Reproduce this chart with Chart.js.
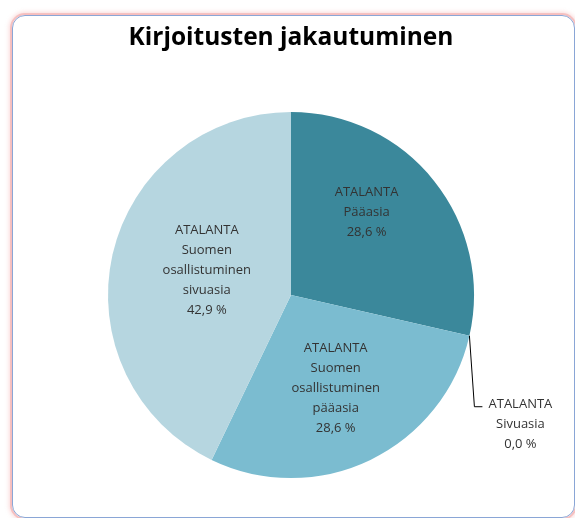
<!DOCTYPE html>
<html>
<head>
<meta charset="utf-8">
<script src="https://cdn.jsdelivr.net/npm/chart.js@4.4.1/dist/chart.umd.min.js"></script>
<style>
  html, body { margin: 0; padding: 0; background: #ffffff; }
  #wrap { position: relative; width: 575px; height: 518px; overflow: hidden; }
  #frame {
    position: absolute; left: 12px; top: 15px; width: 563px; height: 503px;
    border: 1.5px solid #8aa6d6; border-radius: 13px; box-sizing: border-box;
    box-shadow: 0 0 0 2px rgba(240,150,150,0.45), 0 0 4px 3px rgba(240,150,150,0.35);
  }
  canvas { position: absolute; left: 0; top: 0; }
</style>
</head>
<body>
<div id="wrap">
  <div id="frame"></div>
  <canvas id="c" width="575" height="518"></canvas>
</div>
<script>
const titleText = 'Kirjoitusten jakautuminen';
const categories = [
  'ATALANTA\nPääasia',
  'ATALANTA\nSivuasia',
  'ATALANTA\nSuomen\nosallistuminen\npääasia',
  'ATALANTA\nSuomen\nosallistuminen\nsivuasia'
];
const values = [2, 0, 2, 3];
const colors = ['#3b889b', '#3b889b', '#7bbcd0', '#b6d6e0'];

const labelPlugin = {
  id: 'sliceLabels',
  afterDatasetsDraw(chart, args, opts) {
    const ctx = chart.ctx;
    const meta = chart.getDatasetMeta(0);
    const data = chart.data.datasets[0].data;
    const total = data.reduce((a, b) => a + b, 0);
    ctx.save();
    ctx.font = opts.font;
    ctx.fillStyle = opts.color;
    ctx.textAlign = 'center';
    ctx.textBaseline = 'middle';
    const lh = opts.lineHeight;
    meta.data.forEach((arc, i) => {
      const p = arc.getProps(['x', 'y', 'startAngle', 'endAngle', 'outerRadius'], true);
      const pct = (data[i] / total * 100).toFixed(1).replace('.', ',') + ' %';
      const lines = chart.data.labels[i].split('\n').concat([pct]);
      const mid = (p.startAngle + p.endAngle) / 2;
      let cx, cy;
      if (data[i] === 0) {
        const ex = p.x + Math.cos(mid) * p.outerRadius;
        const ey = p.y + Math.sin(mid) * p.outerRadius;
        const bx = ex + opts.leader.dx, by = ey + opts.leader.dy;
        ctx.strokeStyle = '#000';
        ctx.lineWidth = 1;
        ctx.beginPath();
        ctx.moveTo(ex, ey);
        ctx.lineTo(bx, by);
        ctx.lineTo(bx + opts.leader.hx, by);
        ctx.stroke();
        cx = bx + opts.leader.textDx;
        cy = by - 2 + lh;
      } else {
        const adj = opts.adjust[i] || { r: 0.55, a: 0 };
        const ang = mid + adj.a * Math.PI / 180;
        cx = p.x + Math.cos(ang) * p.outerRadius * adj.r;
        cy = p.y + Math.sin(ang) * p.outerRadius * adj.r;
      }
      const top = cy - (lines.length - 1) * lh / 2;
      lines.forEach((t, k) => ctx.fillText(t, cx, top + k * lh));
    });
    ctx.restore();
  }
};

new Chart(document.getElementById('c'), {
  type: 'pie',
  data: {
    labels: categories,
    datasets: [{
      data: values,
      backgroundColor: colors,
      borderWidth: 0
    }]
  },
  options: {
    responsive: false,
    animation: false,
    events: [],
    layout: { padding: { left: 108, right: 101, top: 0, bottom: 40 } },
    plugins: {
      legend: { display: false },
      tooltip: { enabled: false },
      title: {
        display: true,
        text: titleText,
        color: '#000',
        font: { family: 'Open Sans', size: 24.5, weight: 'bold' },
        padding: { top: 23, bottom: 59.6 }
      },
      sliceLabels: {
        font: '13px "Open Sans"',
        color: '#333333',
        lineHeight: 20,
        adjust: {
          0: { r: 0.612, a: -9 },
          2: { r: 0.563, a: 0 },
          3: { r: 0.48, a: 3.7 }
        },
        leader: { dx: 5, dy: 71, hx: 8, textDx: 46 }
      }
    }
  },
  plugins: [labelPlugin]
});
</script>
</body>
</html>
